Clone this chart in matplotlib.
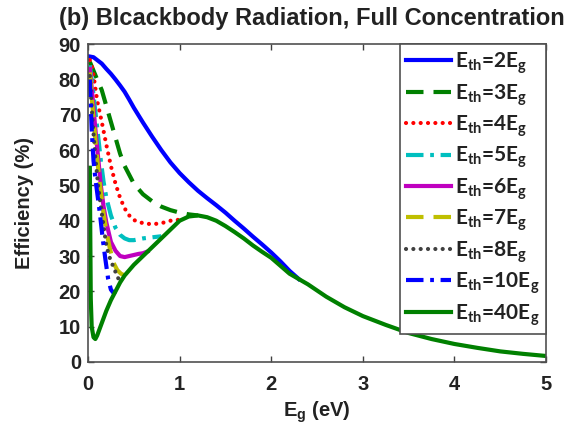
import matplotlib
matplotlib.use("Agg")
import matplotlib.pyplot as plt

plt.rcParams["mathtext.fontset"] = "custom"
plt.rcParams["mathtext.rm"] = "Liberation Sans:bold"
plt.rcParams["mathtext.sf"] = "Lato:bold"

# Efficiency (%) versus band gap Eg (eV) for several thermalisation thresholds
eg_2 = [0.02, 0.06, 0.1, 0.15, 0.2, 0.25, 0.3, 0.35, 0.4, 0.45, 0.5, 0.6, 0.7, 0.8, 0.9,
        1.0, 1.1, 1.2, 1.3, 1.4, 1.5, 1.6, 1.7, 1.8, 1.9, 2.0, 2.1, 2.2, 2.3]
eff_2 = [86.5, 86.3, 85.5, 84.5, 83, 81.6, 80, 78.3, 76.5, 74.3, 72, 67.8, 63.8, 60, 56.5,
         53.5, 50.9, 48.5, 46.4, 44.4, 42.3, 40, 37.8, 35.5, 33.3, 31, 28.5, 25.8, 23.5]

eg_3 = [0.02, 0.1, 0.15, 0.2, 0.25, 0.3, 0.35, 0.4, 0.5, 0.6, 0.7, 0.8, 0.9, 1.0, 1.1, 1.2]
eff_3 = [85, 80, 77, 72.5, 68, 63.5, 59, 55.5, 50.5, 47.5, 45.5, 44, 43, 42.3, 41.8, 41.5]

eg_4 = [0.02, 0.05, 0.1, 0.15, 0.2, 0.25, 0.3, 0.35, 0.4, 0.45, 0.5, 0.6, 0.7, 0.8, 0.9, 1.0]
eff_4 = [85.5, 83, 74, 68, 61.5, 55.5, 50.5, 46.5, 43.5, 41.5, 40.2, 39.3, 39, 39.3, 40, 40.3]

eg_5 = [0.02, 0.05, 0.08, 0.11, 0.14, 0.17, 0.2, 0.25, 0.3, 0.35, 0.4, 0.45, 0.5, 0.6, 0.7, 0.8]
eff_5 = [84, 78, 71, 64, 57, 51, 46.5, 41.5, 38, 36, 35, 34.5, 34.5, 35, 35.3, 35.6]

eg_6 = [0.02, 0.05, 0.08, 0.11, 0.14, 0.17, 0.2, 0.25, 0.3, 0.35, 0.4, 0.45, 0.5, 0.55, 0.6, 0.65]
eff_6 = [83, 75, 66, 58, 50, 44, 39.5, 34, 31.5, 30, 29.7, 30, 30.3, 30.6, 30.8, 31.3]

eg_7 = [0.02, 0.05, 0.08, 0.11, 0.14, 0.17, 0.2, 0.24, 0.28, 0.32, 0.36, 0.4]
eff_7 = [82, 72, 63, 55, 48, 42, 37, 32, 28, 26, 25, 24.5]

eg_8 = [0.02, 0.05, 0.08, 0.11, 0.14, 0.17, 0.2, 0.23, 0.26, 0.3, 0.35]
eff_8 = [81, 68, 58, 50, 44, 38.5, 33, 30, 28, 25.5, 22.5]

eg_10 = [0.02, 0.04, 0.06, 0.08, 0.1, 0.13, 0.16, 0.19, 0.22, 0.25, 0.28, 0.3]
eff_10 = [80, 66, 57, 52, 48, 42, 35, 29, 23.5, 20.5, 19.5, 20]

eg_40 = [0.02, 0.025, 0.03, 0.04, 0.06, 0.08, 0.1, 0.15, 0.2, 0.25, 0.3, 0.35, 0.4,
         0.5, 0.6, 0.7, 0.8, 0.9, 1.0, 1.1, 1.2, 1.3, 1.4, 1.5, 1.6, 1.7, 1.8, 1.9,
         2.0, 2.2, 2.4, 2.6, 2.8, 3.0, 3.25, 3.5, 3.75, 4.0, 4.25, 4.5, 4.75, 5.0]
eff_40 = [55, 35, 18, 10, 7, 6.5, 7.5, 11, 14.5, 17.5, 20, 22.5, 24.5,
          27.5, 30, 32.5, 35, 37.5, 40, 41.2, 41.5, 41, 40, 38.5, 36.8, 35, 33, 31.2,
          29.5, 25, 22, 18.5, 15.5, 13, 10.5, 8.2, 6.5, 5.1, 4, 3, 2.3, 1.7]

multipliers = ["2", "3", "4", "5", "6", "7", "8", "10", "40"]
x_ticks = [0, 1, 2, 3, 4, 5]
y_ticks = [0, 10, 20, 30, 40, 50, 60, 70, 80, 90]

series = [(eg_2, eff_2), (eg_3, eff_3), (eg_4, eff_4), (eg_5, eff_5), (eg_6, eff_6),
          (eg_7, eff_7), (eg_8, eff_8), (eg_10, eff_10), (eg_40, eff_40)]
colors = ["#0000ff", "#008000", "#ff0000", "#00bfbf", "#bf00bf",
          "#bfbf00", "#404040", "#0000ff", "#008000"]
dashed = (0, (4.2, 2.4))
dotted = (0, (0.01, 1.75))
dashdot = (0, (4.2, 1.6, 0.9, 1.6))
styles = ["-", dashed, dotted, dashdot, "-", dashed, dotted, dashdot, "-"]

fig = plt.figure(figsize=(5.73, 4.33), dpi=100)
ax = fig.add_axes([0.1536, 0.164, 0.7994, 0.734])

for (xs, ys), c, ls, m in zip(series, colors, styles, multipliers):
    cap = "round" if ls is dotted else "butt"
    ax.plot(xs, ys, color=c, linestyle=ls, linewidth=3.0, dash_capstyle=cap,
            label=r"E$_\mathsf{th}$=" + m + r"E$_\mathsf{g}$")

ax.set_xlim(0, 5)
ax.set_ylim(0, 90)
ax.set_xticks(x_ticks)
ax.set_yticks(y_ticks)
tick_font = {"family": "Liberation Sans", "weight": "bold", "size": 14.5}
ax.set_xticklabels([str(v) for v in x_ticks], fontdict=tick_font, color="#222222")
ax.set_yticklabels([str(v) for v in y_ticks], fontdict=tick_font, color="#222222")
ax.tick_params(direction="in", length=4, width=1, color="#404040",
               top=True, right=True)
ax.tick_params(axis="x", pad=9.5)
ax.tick_params(axis="y", pad=5)
for sp in ax.spines.values():
    sp.set_color("#505050")
    sp.set_linewidth(1.2)

ax.set_xlabel(r"E$_\mathrm{g}$ (eV)", family="Liberation Sans", weight="bold",
              size=14.5, color="#222222", labelpad=4)
ax.set_ylabel("Efficiency (%)", family="Liberation Sans", weight="bold",
              size=14.5, color="#222222", labelpad=18)
fig.text(0.545, 0.958, "(b) Blcackbody Radiation, Full Concentration",
         family="Liberation Sans", weight="bold", size=17, color="#222222",
         ha="center", va="center")

leg = ax.legend(loc="upper right", borderaxespad=0, fancybox=False,
                prop={"family": "Lato", "weight": "bold", "size": 15},
                handlelength=2.15, handletextpad=0.2, labelspacing=0.27,
                borderpad=0.3, framealpha=1)
leg.get_frame().set_edgecolor("#505050")
leg.get_frame().set_linewidth(1.2)
for t in leg.get_texts():
    t.set_color("#222222")

fig.savefig("out.png", dpi=100)
